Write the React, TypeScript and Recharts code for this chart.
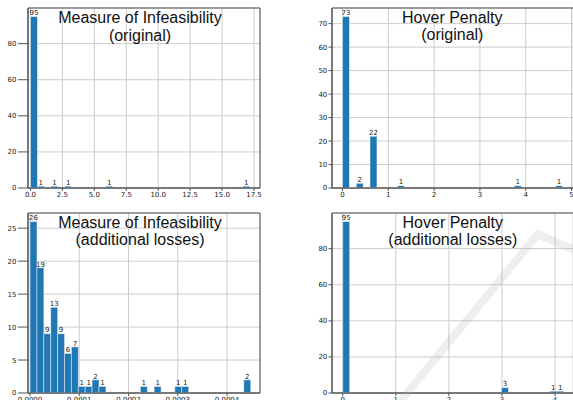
import React from 'react';
import { BarChart, Bar, XAxis, YAxis, CartesianGrid, ReferenceArea } from 'recharts';

// ---------- data (32-bin histograms, counts) ----------
const infOrigRange = [0, 17.16];
const infOrigCounts = [95, 1, 0, 1, 0, 1, 0, 0, 0, 0, 0, 1, 0, 0, 0, 0, 0, 0, 0, 0, 0, 0, 0, 0, 0, 0, 0, 0, 0, 0, 0, 1];
const infOrigXTicks = [0, 2.5, 5, 7.5, 10, 12.5, 15, 17.5];
const infOrigYTicks = [0, 20, 40, 60, 80];

const hovOrigRange = [0, 4.8];
const hovOrigCounts = [73, 0, 2, 0, 22, 0, 0, 0, 1, 0, 0, 0, 0, 0, 0, 0, 0, 0, 0, 0, 0, 0, 0, 0, 0, 1, 0, 0, 0, 0, 0, 1];
const hovOrigXTicks = [0, 1, 2, 3, 4, 5];
const hovOrigYTicks = [0, 10, 20, 30, 40, 50, 60, 70];

const infAddRange = [0, 0.000448];
const infAddCounts = [26, 19, 9, 13, 9, 6, 7, 1, 1, 2, 1, 0, 0, 0, 0, 0, 1, 0, 1, 0, 0, 1, 1, 0, 0, 0, 0, 0, 0, 0, 0, 2];
const infAddXTicks = [0, 0.0001, 0.0002, 0.0003, 0.0004];
const infAddYTicks = [0, 5, 10, 15, 20, 25];

const hovAddRange = [0, 4.16];
const hovAddCounts = [95, 0, 0, 0, 0, 0, 0, 0, 0, 0, 0, 0, 0, 0, 0, 0, 0, 0, 0, 0, 0, 0, 0, 3, 0, 0, 0, 0, 0, 0, 1, 1];
const hovAddXTicks = [0, 1, 2, 3, 4];
const hovAddYTicks = [0, 20, 40, 60, 80];

const titles = [
  ['Measure of Infeasibility', '(original)'],
  ['Hover Penalty', '(original)'],
  ['Measure of Infeasibility', '(additional losses)'],
  ['Hover Penalty', '(additional losses)'],
];

// histogram rows: bin centre + count
function histRows(range: number[], counts: number[]) {
  const w = (range[1] - range[0]) / counts.length;
  return counts.map((c, i) => ({ x: range[0] + (i + 0.5) * w, count: c > 0 ? c : null }));
}

const BLUE = '#1f77b4';
const SPINE = '#555555';
const GRID = '#cccccc';
const TICK_FONT = { fontSize: 7, fill: '#1a1a1a', fontFamily: 'DejaVu Sans' };

const renderLabel = (p: any) => {
  const vb = p.viewBox || p;
  const x = p.x ?? vb.x;
  const y = p.y ?? vb.y;
  const w = p.width ?? vb.width;
  if (p.value == null || p.value === 0) return null;
  return (
    <text x={x + w / 2} y={y - 1.2} textAnchor="middle" fontSize={7} fontFamily="DejaVu Sans" fill="#1a1a1a">
      {p.value}
    </text>
  );
};

type PanelProps = {
  left: number; top: number; width: number; height: number;
  marginTop: number; marginRight: number;
  yAxisWidth: number; yTickSize: number; yTickMargin: number;
  rows: any[]; xDomain: number[]; xTicks: number[]; xFmt: (v: number) => string;
  yDomain: number[]; yTicks: number[];
};

function Panel(p: PanelProps) {
  return (
    <div style={{ position: 'absolute', left: p.left, top: p.top, width: p.width, height: p.height }}>
      <BarChart
        width={p.width}
        height={p.height}
        data={p.rows}
        margin={{ top: p.marginTop, right: p.marginRight, bottom: 0, left: 0 }}
        barCategoryGap={0}
        barGap={0}
      >
        <CartesianGrid stroke={GRID} strokeWidth={1} />
        <XAxis
          dataKey="x"
          type="number"
          domain={p.xDomain}
          ticks={p.xTicks}
          tickFormatter={p.xFmt}
          allowDataOverflow
          interval={0}
          height={22}
          tickSize={3}
          tickMargin={1}
          tick={TICK_FONT}
          axisLine={{ stroke: SPINE }}
          tickLine={{ stroke: SPINE }}
        />
        <YAxis
          type="number"
          domain={p.yDomain}
          ticks={p.yTicks}
          allowDataOverflow
          interval={0}
          width={p.yAxisWidth}
          tickSize={p.yTickSize}
          tickMargin={p.yTickMargin}
          tick={TICK_FONT}
          axisLine={{ stroke: SPINE }}
          tickLine={{ stroke: SPINE }}
        />
        <Bar dataKey="count" fill={BLUE} stroke="#ffffff" strokeWidth={0.5} isAnimationActive={false} label={renderLabel} />
        <ReferenceArea
          x1={p.xDomain[0]}
          x2={p.xDomain[1]}
          y1={p.yDomain[0]}
          y2={p.yDomain[1]}
          fill="none"
          fillOpacity={0}
          stroke={SPINE}
          strokeWidth={1}
          ifOverflow="visible"
        />
      </BarChart>
    </div>
  );
}

const fmt1 = (v: number) => v.toFixed(1);
const fmt0 = (v: number) => String(Math.round(v));
const fmt4 = (v: number) => v.toFixed(4);

export default function App() {
  return (
    <div style={{ position: 'absolute', left: 0, top: 0, width: 573, height: 400, overflow: 'hidden', background: '#fff' }}>
      <Panel left={0} top={0} width={262} height={210} marginTop={8} marginRight={2}
        yAxisWidth={28} yTickSize={10} yTickMargin={1.5}
        rows={histRows(infOrigRange, infOrigCounts)} xDomain={[-0.196, 17.97]} xTicks={infOrigXTicks} xFmt={fmt1}
        yDomain={[0, 99.75]} yTicks={infOrigYTicks} />
      <Panel left={290} top={0} width={290} height={210} marginTop={8} marginRight={6.6}
        yAxisWidth={42} yTickSize={3.5} yTickMargin={1.2}
        rows={histRows(hovOrigRange, hovOrigCounts)} xDomain={[-0.229, 5.04]} xTicks={hovOrigXTicks} xFmt={fmt0}
        yDomain={[0, 76.65]} yTicks={hovOrigYTicks} />
      <Panel left={0} top={200} width={262} height={215} marginTop={13} marginRight={2}
        yAxisWidth={28} yTickSize={10} yTickMargin={1.5}
        rows={histRows(infAddRange, infAddCounts)} xDomain={[-0.00000407, 0.000467]} xTicks={infAddXTicks} xFmt={fmt4}
        yDomain={[0, 27.3]} yTicks={infAddYTicks} />
      <Panel left={290} top={200} width={290} height={215} marginTop={13} marginRight={6.6}
        yAxisWidth={42} yTickSize={3.5} yTickMargin={1.2}
        rows={histRows(hovAddRange, hovAddCounts)} xDomain={[-0.2015, 4.345]} xTicks={hovAddXTicks} xFmt={fmt0}
        yDomain={[0, 99.75]} yTicks={hovAddYTicks} />
      <svg width={573} height={400} style={{ position: 'absolute', left: 0, top: 0, pointerEvents: 'none' }}>
        <polyline points="398,404 538,234 576,251" fill="none" stroke="rgba(170,170,170,0.2)" strokeWidth={8} strokeLinejoin="miter" />
        <g fontFamily="'Liberation Sans', Arial, sans-serif" fontSize={16} fill="#111" textAnchor="middle">
          <text x={140} y={23.3}>{titles[0][0]}</text>
          <text x={140} y={40.5}>{titles[0][1]}</text>
          <text x={452.3} y={22.8}>{titles[1][0]}</text>
          <text x={452.3} y={40.2}>{titles[1][1]}</text>
          <text x={140} y={227.7}>{titles[2][0]}</text>
          <text x={140} y={245.3}>{titles[2][1]}</text>
          <text x={452.8} y={227.7}>{titles[3][0]}</text>
          <text x={452.8} y={245.3}>{titles[3][1]}</text>
        </g>
      </svg>
    </div>
  );
}
